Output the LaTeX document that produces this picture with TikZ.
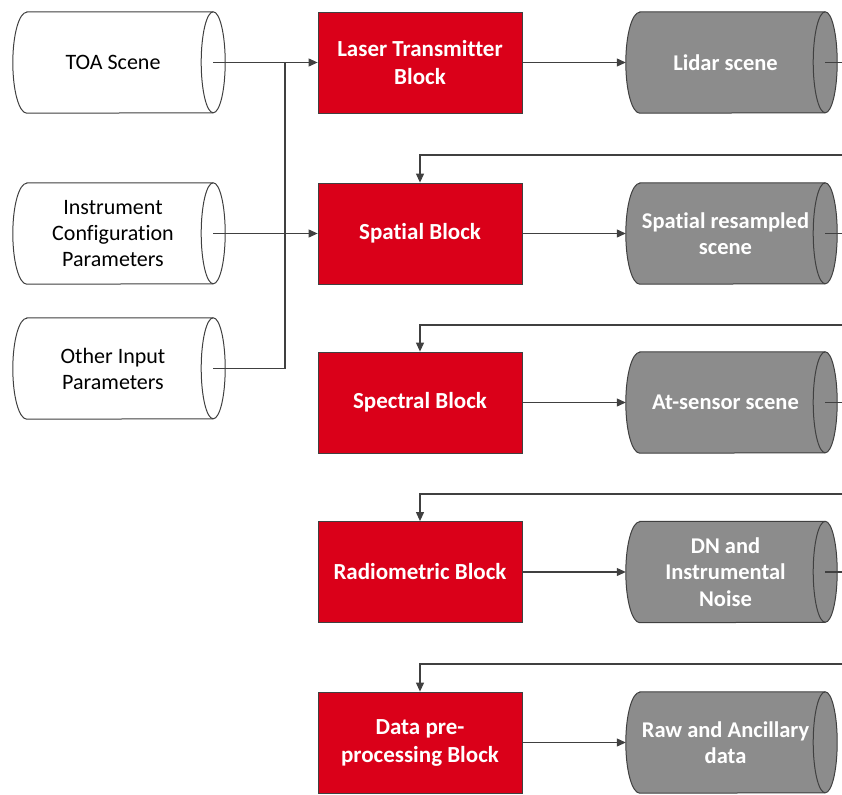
\documentclass[tikz,border=0pt]{standalone}
\usepackage{fontspec}
\setmainfont{Carlito}[Ligatures=NoCommon]
\usetikzlibrary{arrows.meta,calc,backgrounds}

\definecolor{blockred}{HTML}{DA0019}
\definecolor{drumgray}{HTML}{8C8C8C}
\definecolor{edge}{HTML}{404040}

\newcommand\drumry{50.5pt}
% Horizontal drum (cylinder) drawn around a text node:
% bulging back end at the west side, open ellipse centred on the east anchor.
\newcommand\drum[2]{%
  \path[draw=edge, fill=#2, line width=1pt]
    ($(#1.north west)+(14pt,0)$) -- (#1.north east)
    arc[start angle=90, end angle=-90, x radius=12pt, y radius=\drumry]
    -- ($(#1.south west)+(14pt,0)$)
    arc[start angle=270, end angle=90, x radius=14pt, y radius=\drumry]
    -- cycle;
  \draw[edge, line width=1pt] (#1.north east)
    arc[start angle=90, end angle=270, x radius=12pt, y radius=\drumry];
}

\tikzset{
  base/.style={inner sep=0pt, align=center, font=\fontsize{22}{26}\selectfont},
  inputdrum/.style={base, minimum width=200pt, minimum height=101pt, text=black},
  outputdrum/.style={base, minimum width=199pt, minimum height=101pt, text=white,
    font=\fontsize{22.5}{26.5}\selectfont\bfseries},
  blockbox/.style={base, draw=edge, fill=blockred, line width=0.8pt,
    minimum width=204pt, minimum height=101pt, text=white,
    font=\fontsize{23}{28}\selectfont\bfseries},
  link/.style={draw=edge, line width=1.1pt},
  flow/.style={link, -{Triangle[length=9pt,width=8pt]}},
}

\begin{document}
\begin{tikzpicture}[x=1pt, y=-1pt]
\useasboundingbox (0,0) rectangle (842,794);

% inputs
\node[inputdrum] (toa)   at (113,62.5)  {TOA Scene};
\node[inputdrum] (instr) at (113,233.5) {Instrument\\Configuration\\Parameters};
\node[inputdrum] (other) at (113,368.5) {Other Input\\Parameters};

% processing chain
\node[blockbox] (laser)    at (420,62.5)  {Laser Transmitter\\Block};
\node[blockbox] (spatial)  at (420,233.5) {Spatial Block};
\node[blockbox] (spectral) at (420,402.5) {Spectral Block};
\node[blockbox] (radio)    at (420,572)   {Radiometric Block};
\node[blockbox] (prep)     at (420,742.5) {Data pre-\\processing Block};

% intermediate products
\node[outputdrum] (lidar)    at (725.5,62.5)  {Lidar scene};
\node[outputdrum] (resamp)   at (725.5,233.5) {Spatial resampled\\scene};
\node[outputdrum] (atsensor) at (725.5,402.5) {At-sensor scene};
\node[outputdrum] (dn)       at (725.5,572)   {DN and\\Instrumental\\Noise};
\node[outputdrum] (raw)      at (725.5,742.5) {Raw and Ancillary\\data};

\begin{scope}[on background layer]
  \drum{toa}{white}
  \drum{instr}{white}
  \drum{other}{white}
  \drum{lidar}{drumgray}
  \drum{resamp}{drumgray}
  \drum{atsensor}{drumgray}
  \drum{dn}{drumgray}
  \drum{raw}{drumgray}
\end{scope}

% input wiring
\coordinate (bus) at (285,62.5);
\draw[flow] (toa.east) -- (laser.west);
\draw[flow] (instr.east) -- (spatial.west);
\draw[link] (other.east) -| (bus);

% block outputs
\draw[flow] (laser.east)    -- (lidar.west);
\draw[flow] (spatial.east)  -- (resamp.west);
\draw[flow] (spectral.east) -- (atsensor.west);
\draw[flow] (radio.east)    -- (dn.west);
\draw[flow] (prep.east)     -- (raw.west);

% products leave to the right, results come back into the next block
\coordinate (ret1) at (842,155);
\coordinate (ret2) at (842,325);
\coordinate (ret3) at (842,494);
\coordinate (ret4) at (842,664);
\foreach \p in {lidar,resamp,atsensor,dn}
  \draw[link] (\p.east) -- (\p.east -| ret1);
\draw[flow] (ret1) -| (spatial.north);
\draw[flow] (ret2) -| (spectral.north);
\draw[flow] (ret3) -| (radio.north);
\draw[flow] (ret4) -| (prep.north);
\end{tikzpicture}
\end{document}
